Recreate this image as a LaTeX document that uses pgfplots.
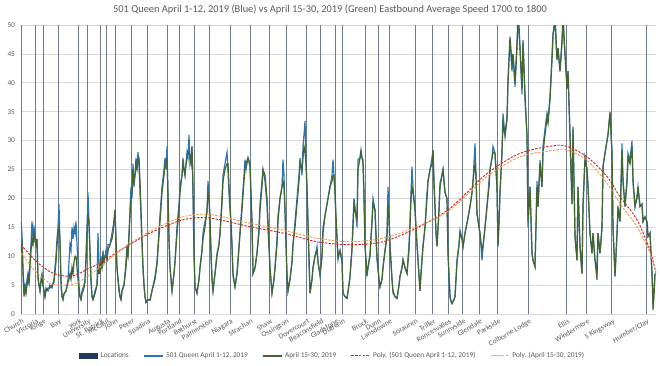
\documentclass[border=0pt]{standalone}
\usepackage{fontspec}
\setmainfont{Carlito}
\usepackage{pgfplots}
\usepackage{pgfplotstable}
\pgfplotsset{compat=1.18}

\definecolor{locnavy}{HTML}{6F7B8C}
\definecolor{legnavy}{HTML}{1F3864}
\definecolor{sblue}{HTML}{2E75B6}
\definecolor{sgreen}{HTML}{436532}
\definecolor{pred}{HTML}{D62728}
\definecolor{porange}{HTML}{F0A050}
\definecolor{txtgray}{HTML}{595959}
\definecolor{gridgray}{HTML}{D9D9D9}

\pgfplotstableread{
x y
21 50
35.3 50
43.3 50
58.3 50
78.7 50
87.7 50
100.7 50
106 50
115 50
131.7 50
147.7 50
167.7 50
179 50
194.3 50
209.7 50
230 50
250 50
269.3 50
286 50
306.7 50
320.7 50
335.7 50
342.3 50
365 50
378.3 50
389.3 50
415 50
432.7 50
448.3 50
462.7 50
479.3 50
497.7 50
528.3 50
566.7 50
586.7 50
611.7 50
646 50
}\locs

\pgfplotstableread{
x b g
21 16 11
22 14 12
23 8 7
24 3.5 3
25 5 4.5
26 4 3.5
27 6 5
28 7 6.5
29 5 5.5
30 9 8
31 12 11
32 16 13
33 13 12
34 15 14
35 14 12.5
36 12 12
37 13 13
38 6 6.5
39 5 5
40 4 4
41 6 5.5
42 7 6.5
43 5 5
44 4 4
45 3 3
46 4.5 4
48 4 4.5
50 5 4.5
52 4.5 5
54 6 5.5
56 10 9
57 13 12
58 15 14
59 19 15
60 12 13
61 5 6
62 3 3
63 2.5 2.5
64 3.5 3.5
66 4 4
68 6 5.5
69 9 6
70 12 7
71 11 6
72 15 8
73 13 7
74 15 9
75 14 10
76 16 10
77 12 8
78 9 6
79 5 4
80 3 3
81 2.5 2.5
82 4 3.5
84 5 4.5
85 6 5.5
86 10 9
87 15 14
88 21 17
89 16 16
90 10 11
91 6 6
92 3 3
93 2.5 2.5
95 4 3.5
97 5 5
98 14 8
99 9 7
100 7 7
101 10 9
102 8 8
103 11 10
104 9 9
105 10 10
106 11 10
107 9 9.5
108 12 11
110 12 12
111 13 12.5
112 14 13
113 15 14
114 16 16
115 18 18
116 12 13
117 8 8
118 6 6
119 4 4.5
120 3 3
121 2.5 2.5
122 4 4
124 5 5
126 9 8
127 12 11
128 10 10
130 18 17
131 22 20
132 20 21
133 26 25
134 22 23
135 24 24
136 27 26
137 25 25
138 28 27
139 26 27
140 21 23
141 17 18
142 12 13
143 8 8
144 5 5
145 3 3
146 2 2
148 2.5 2.5
150 2.4 2.4
152 4 4
155 6.5 6
157 9 8.5
158 11.7 11
160 17 16
162 22 21
164 25 24
165 27 26
166 25 26
167 29 27
168 20 21
169 13 13
170 8 8
171 6 6
172 4 4
174 7 7
175 9 9
177 15 14
179 19 18
180 22 21
182 24 24
183 27 26
184 25 25
185 24 24
186 26 26
187 28 27
188 27 28
189 31 28
190 26 27
191 27 26
192 29 29
193 21 22
194 10 11
195 4.7 4.7
197 3.6 3.6
199 6 6
200 8 8
202 11 11
203 14 13
205 16 15
207 17.5 18
208 23 21
209 20 20
210 16 17
211 10 11
212 6 6
213 4 4
215 7 7
217 10.5 10
219 12 12
220 14 14
222 20 19
223 24 23
225 26 25
227 28 26
228 25 26
229 21 22
231 15 16
232 11.7 12
233 6.5 7
235 4.7 4.7
237 7 7
238 9.4 9
240 14 14
242 19 18
244 24 23
245 26.7 25
246 25 26
248 27 27
250 25.5 26
251 20 21
252 15 16
253 7 7
255 8 8
257 10.5 10.5
259 15 14
260 19 18
262 23 22
263 25 25
265 23 24
267 19 20
268 15 16
270 8 8
272 3.6 3.6
274 6 6
275 8 8
277 13 12
278 17 16
280 20 20
282 22 22
283 26.7 23
284 24 22
285 18 18
286 12 12
287 6.5 7
288 4 4
290 6 6
292 9 9
293 12 12
295 16 15
297 20 19
299 24 23
300 27 26
302 24 25
303 29 27
304 31 29
305 33.4 28
306 27 26
307 21 22
308 15 16
309 9 10
310 3.6 3.6
312 6 6
313 8 8
315 10 10
317 11.7 11
318 9 9
320 6.5 7
322 10 10
323 15 14
325 17 17
327 19 19
329 21 21
330 22 22
332 24 23
333 26.7 24
334 24 24
335 21 21
336 16 17
338 9.4 10
340 11 11
342 9.4 9
343 3.6 3.6
345 3 3
347 2.7 2.7
349 5 5
350 6.5 6.5
352 11.7 11
353 16 15
354 20 19
356 17 17
357 15 16
358 26.7 25
360 27 27
361 28.4 28
362 27 27
363 26.7 26
364 20 21
365 11.7 12
367 6.5 7
368 8 8
370 10.5 10
372 16 16
373 20 19
375 18 18
376 13 14
377 9.4 10
379 6 6
380 4.7 4.7
382 6 6
383 8 8
385 11 11
387 14 13
388 22 19
389 17 17
390 11.7 12
392 6 6
393 3.6 4
395 3 3
397 2.7 2.7
399 5 5
400 6.5 6.5
402 8 8
403 9.4 9.4
405 8 8
407 7 7
409 12 11
410 16 15
411 21 20
412 25.5 22
413 22 21
415 18 18
417 12 12
418 9.4 9.4
420 4 4
421 7 7
423 11.7 11.7
425 15 15
427 21 20
428 23 23
430 25 25
432 27 26
433 28.4 28.4
434 22 23
435 18.6 18.6
436 14 14
437 11.7 11.7
439 18 18
440 22.7 22
442 24 24
443 25 25
445 21 21
447 20 20
448 10.5 10.5
450 3 3
451 2.2 2.2
452 1.8 1.8
454 2.5 2.5
455 3 3
457 9.3 9
459 12 12
460 14.5 14
462 13 13
463 11.6 11.6
465 14 14
467 15.7 15.7
470 18.6 18.6
472 21 21
473 23 23
475 29.5 26
476 24 24
477 17.4 17.4
479 15 15
480 14 14
482 9.3 11
483 11.6 11.6
485 15 15
487 18.6 18.6
489 23 22
490 25 25
492 27 27
493 29 28
495 27.8 27.8
497 22 22
498 11.6 12
499 16 16
500 21 21
502 28 28
503 34.7 33
505 30.7 31
507 33.6 34
508 40.5 40
510 47.4 48
512 42 43
513 45 45
515 39.3 40
517 46 47
518 50 52
519 49 50
520 46 46
522 38 39
523 47.4 47
525 37 38
527 30.7 31
528 15 16
530 22 22
532 10.5 10.5
533 9.3 9.3
535 8.2 8.2
537 23 22
538 18.6 18.6
540 26.6 26
542 22 22
543 29 28
545 32 31
547 34.7 34
548 33.6 33
550 37.6 37
552 44.5 44
553 48.6 48
555 50 52
557 44 44
558 46 46
560 42 42
562 47.4 47
563 50 52
565 45 45
567 39.3 39
568 42 42
570 30.7 31
572 19 19
573 32.4 32
575 13.4 13.4
577 9.3 9.3
578 22 22
580 11.6 11.6
582 7 7
583 18.6 18.6
585 27 27
587 25 25
588 22 22
590 14 14
592 10.5 10.5
593 14 14
595 9.3 9.3
597 8 5.9
598 14 14
600 10.5 10.5
602 15 15
603 25.5 25.5
605 27.8 27.8
607 30 30
608 31 31
610 34.7 35
612 27.8 28
613 15 15
615 6.5 6.5
617 14 14
618 18.6 18
620 16 16
622 29.5 28
623 23 23
625 18.6 18.6
627 23 23
628 27.8 27
630 26.6 26
632 30 29
633 23 23
635 18.6 18.6
637 20.3 20
638 22 22
640 18.6 18.6
642 19 19
643 16 16
645 16.8 16.8
647 16 16
648 13.4 13.4
650 14 14
652 7 7
653 3 0.7
654 4 3
655 7 7
}\speeds

\pgfplotstableread{
x r o
21 12.0 10.5
35 9.3 7.5
50 7.3 5.3
63 6.6 5.0
75 6.7 5.2
90 8.0 6.8
100 8.8 8.1
120 11.0 11.0
150 14.0 14.3
183 16.3 16.8
210 16.6 17.2
250 15.1 15.7
283 14.0 14.5
317 12.5 13.1
350 12.0 12.5
383 12.5 13.1
417 14.9 15.1
450 18.3 18.0
487 24.3 23.8
520 27.8 27.2
553 29.1 28.3
567 29.0 28.4
587 27.2 26.6
607 23.8 22.6
620 20.3 19.1
637 16.3 15.1
650 11.0 10.5
656 7.0 7.2
}\trends

\begin{document}
\begin{tikzpicture}
\useasboundingbox (-15.75pt,-39pt) rectangle (479.25pt,235.5pt);
\begin{axis}[
  at={(0pt,0pt)}, anchor=south west,
  scale only axis, width=476.25pt, height=216.75pt,
  xmin=21, xmax=656, ymin=0, ymax=50,
  ytick={0,5,...,50},
  xtick={21,35.3,43.3,58.3,78.7,87.7,100.7,106,115,131.7,147.7,167.7,179,194.3,209.7,230,250,269.3,286,306.7,320.7,335.7,342.3,365,378.3,389.3,415,432.7,448.3,462.7,479.3,497.7,528.3,566.7,586.7,611.7,646},
  xticklabels={Church,Victoria,Yonge,Bay,York,University,St. Patrick,McCaul,John,Peter,Spadina,Augusta,Portland,Bathurst,Palmerston,Niagara,Strachan,Shaw,Ossington,Dovercourt,Beaconsfield,Gladstone,Dufferin,Brock,Dunn,Lansdowne,Sorauren,Triller,Roncesvalles,Sunnyside,Glendale,Parkside,Colborne Lodge,Ellis,Windermere,S Kingsway,Humber/Clay},
  /pgf/number format/assume math mode=true,
  major tick length=0pt,
  ymajorgrids, grid style={draw=gridgray, line width=0.5pt},
  axis x line*=bottom, axis y line*=left,
  x axis line style={draw=gridgray, line width=0.5pt, -},
  y axis line style={draw=none},
  yticklabel style={font=\fontsize{5.5}{6}\selectfont, text=txtgray, xshift=-1pt},
  xticklabel style={font=\fontsize{5.6}{6}\selectfont, text=txtgray, rotate=30, anchor=north east, inner sep=1pt, yshift=-2pt},
  legend style={at={(0.491,-0.145)}, anchor=center, legend columns=5, draw=none, fill=none,
    font=\fontsize{5.5}{6}\selectfont, text=txtgray,
    /tikz/every even column/.append style={column sep=9pt}},
  legend cell align=left,
  clip=true,
]
\addplot[ycomb, draw=locnavy, line width=0.5pt, mark=none,
  legend image code/.code={\fill[legnavy] (0pt,-1.6pt) rectangle (14pt,1.6pt);}]
  table[x=x,y=y]{\locs};
\addlegendentry{Locations}
\addplot[sblue, line width=0.9pt, mark=none, legend image code/.code={\draw[sblue, line width=0.9pt] (0pt,0pt) -- (14pt,0pt);}] table[x=x,y=b]{\speeds};
\addlegendentry{501 Queen April 1-12, 2019}
\addplot[sgreen, line width=0.9pt, mark=none, legend image code/.code={\draw[sgreen, line width=0.9pt] (0pt,0pt) -- (14pt,0pt);}] table[x=x,y=g]{\speeds};
\addlegendentry{April 15-30, 2019}
\addplot[pred, line width=0.7pt, dash pattern=on 1.8pt off 1pt, mark=none, smooth, legend image code/.code={\draw[pred, line width=0.7pt, dash pattern=on 1.8pt off 1pt] (0pt,0pt) -- (14pt,0pt);}] table[x=x,y=r]{\trends};
\addlegendentry{Poly. (501 Queen April 1-12, 2019)}
\addplot[porange, line width=0.7pt, dash pattern=on 1.8pt off 1pt, mark=none, smooth, legend image code/.code={\draw[porange, line width=0.7pt, dash pattern=on 1.8pt off 1pt] (0pt,0pt) -- (14pt,0pt);}] table[x=x,y=o]{\trends};
\addlegendentry{Poly. (April 15-30, 2019)}
\end{axis}
\node[font=\fontsize{7.8}{9}\selectfont, text=txtgray] at (231.75pt,228pt) {501 Queen April 1-12, 2019 (Blue) vs April 15-30, 2019 (Green) Eastbound Average Speed 1700 to 1800};
\end{tikzpicture}
\end{document}
